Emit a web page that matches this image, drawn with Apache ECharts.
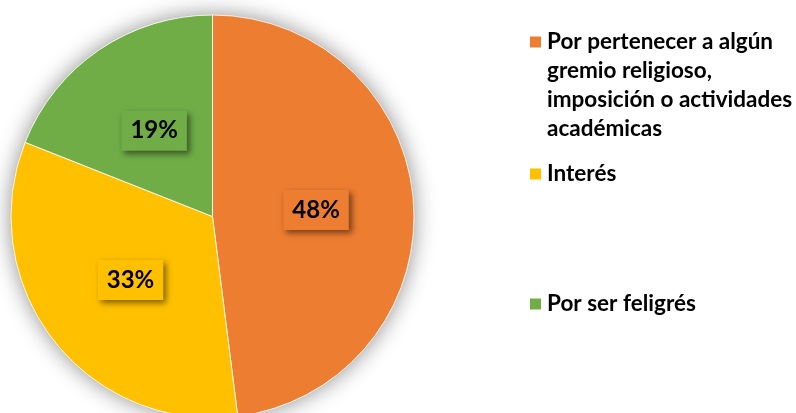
<!DOCTYPE html>
<html>
<head>
<meta charset="utf-8">
<script src="https://cdn.jsdelivr.net/npm/echarts@6/dist/echarts.min.js"></script>
<style>
  html, body { margin: 0; padding: 0; background: #fff; }
  #chart { width: 796px; height: 413px; }
</style>
</head>
<body>
<div id="chart"></div>
<script>
// datos del gráfico
const categories = [
  'Por pertenecer a algún gremio religioso, imposición o actividades académicas',
  'Interés',
  'Por ser feligrés'
]
const values = [48, 33, 19]
const colors = ['#ED7D31', '#FFC000', '#70AD47']
// saltos de línea de la leyenda (líneas vacías arriba para que el icono quede en la primera línea)
const legendLines = {
  [categories[0]]: '\n\n\nPor pertenecer a algún\ngremio religioso,\nimposición o actividades\nacadémicas'
}

const font = 'Lato'
const total = values.reduce((a, b) => a + b, 0)

const chart = echarts.init(document.getElementById('chart'))

// una leyenda por elemento, para poder colocarlas a distinta altura
const legendTops = [-59.5, 159.5, 289.5]
const legends = categories.map((name, i) => ({
  data: [{name: name, icon: 'rect'}],
  left: 528,
  top: legendTops[i],
  padding: 0,
  itemWidth: 13,
  itemHeight: 13,
  selectedMode: false,
  formatter: n => legendLines[n] || n,
  textStyle: {
    fontFamily: font,
    fontWeight: 'bold',
    fontSize: 22.5,
    lineHeight: 29,
    color: '#000'
  }
}))

const option = {
  animation: false,
  legend: legends,
  series: [
    // sombra de fondo del círculo
    {
      type: 'pie',
      silent: true,
      center: [212.5, 216.5],
      radius: 201.5,
      z: 1,
      label: {show: false},
      labelLine: {show: false},
      itemStyle: {
        color: '#fff',
        shadowBlur: 22,
        shadowColor: 'rgba(0,0,0,0.45)'
      },
      data: [{name: '', value: total}]
    },
    {
      type: 'pie',
      center: [212.5, 216.5],
      radius: 201.5,
      startAngle: 90,
      clockwise: true,
      z: 2,
      itemStyle: {borderColor: '#fff', borderWidth: 0.8},
      label: {
        show: true,
        position: 'inside',
        formatter: '{c}%',
        fontFamily: font,
        fontWeight: 'bold',
        fontSize: 24,
        color: '#000',
        padding: [8, 9, 8, 9],
        shadowColor: 'rgba(0,0,0,0.5)',
        shadowBlur: 6,
        shadowOffsetX: 3,
        shadowOffsetY: 3
      },
      labelLine: {show: false},
      emphasis: {disabled: true},
      data: categories.map((name, i) => ({
        name: name,
        value: values[i],
        itemStyle: {color: colors[i]},
        label: {backgroundColor: colors[i]}
      }))
    }
  ]
}

chart.setOption(option)
window.addEventListener('resize', () => chart.resize())
</script>
</body>
</html>
